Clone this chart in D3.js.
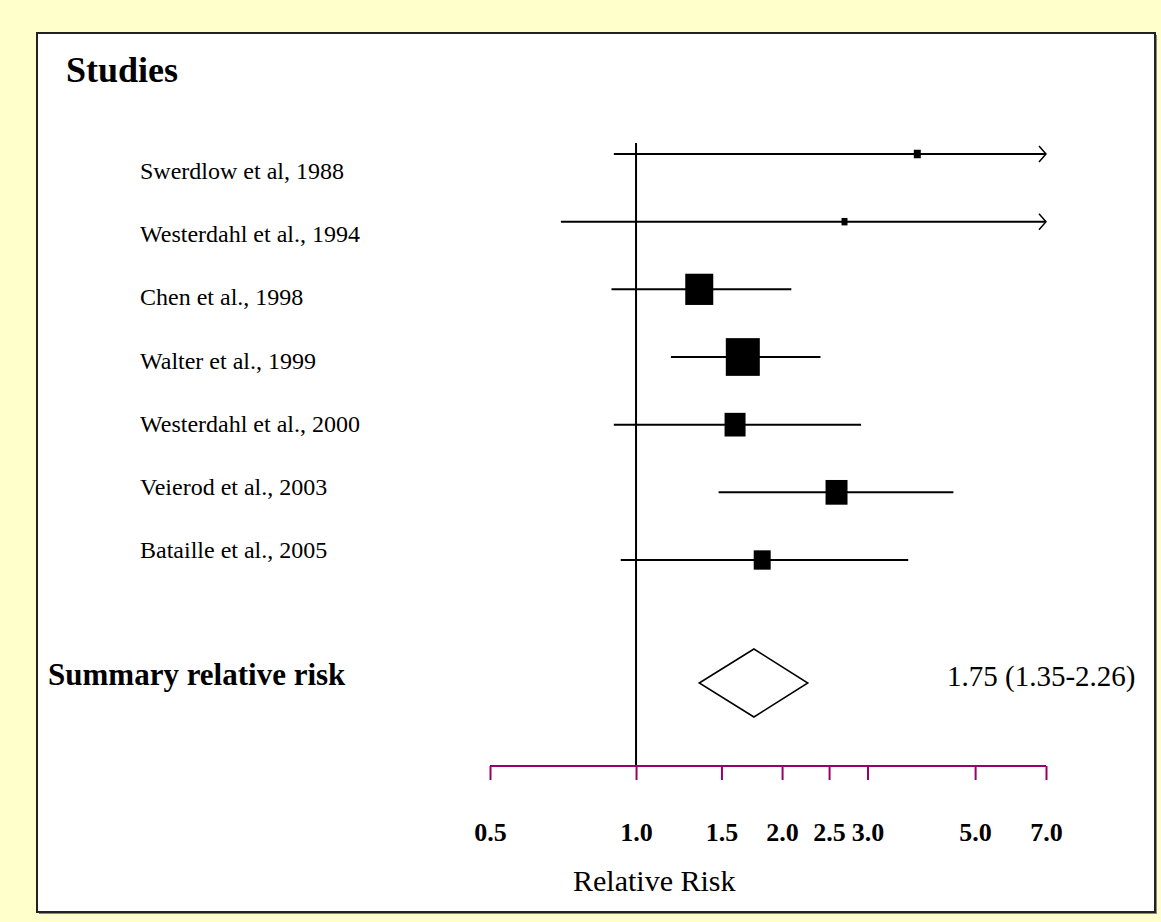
<!DOCTYPE html>
<html>
<head>
<meta charset="utf-8">
<script src="https://cdn.jsdelivr.net/npm/d3@7"></script>
<style>
html,body{margin:0;padding:0;background:#FFFFCC;}
svg{display:block;}
</style>
</head>
<body>
<svg id="chart" width="1161" height="922"></svg>
<script>
// ---- data ----
const studies = ["Swerdlow et al, 1988","Westerdahl et al., 1994","Chen et al., 1998","Walter et al., 1999","Westerdahl et al., 2000","Veierod et al., 2003","Bataille et al., 2005"];
const rr      = [3.80, 2.69, 1.35, 1.66, 1.60, 2.59, 1.82];
const lower   = [0.90, 0.70, 0.89, 1.18, 0.90, 1.48, 0.93];
const upper   = [15.0, 10.0, 2.09, 2.40, 2.91, 4.51, 3.64];
const weights = [1.5, 1.1, 24.2, 35.7, 13.6, 14.9, 8.9];
const summary = {rr: 1.75, lo: 1.35, hi: 2.26};
const tickValues = [0.5, 1.0, 1.5, 2.0, 2.5, 3.0, 5.0, 7.0];
const tickLabels = ["0.5","1.0","1.5","2.0","2.5","3.0","5.0","7.0"];

const svg = d3.select("#chart");
const serif = "'Liberation Serif','Times New Roman',serif";

// frame
svg.append("rect").attr("x",39).attr("y",35).attr("width",1118).attr("height",879)
  .attr("fill","#888");
svg.append("rect").attr("x",37).attr("y",33).attr("width",1118).attr("height",879)
  .attr("fill","#fff").attr("stroke","#222").attr("stroke-width",2);

const x = d3.scaleLog().domain([0.5, 7]).range([490, 1046]);
const yRow = d3.scalePoint().domain(studies).range([154, 560]);
const yLab = d3.scalePoint().domain(studies).range([179, 558]);
const side = d3.scaleSqrt().domain([0, d3.max(weights)]).range([0, 34]);
const axisY = 766;
const xmax = x.domain()[1];

// titles
svg.append("text").attr("x",66).attr("y",82).text("Studies")
  .attr("font-family",serif).attr("font-weight","bold").attr("font-size",36).attr("fill","#000");
svg.append("text").attr("x",48).attr("y",685).text("Summary relative risk")
  .attr("font-family",serif).attr("font-weight","bold").attr("font-size",31).attr("fill","#000");

// study labels
svg.append("g").selectAll("text").data(studies).join("text")
  .attr("x",140).attr("y",d=>yLab(d)).text(d=>d)
  .attr("font-family",serif).attr("font-size",24).attr("fill","#000");

// reference line at 1.0
svg.append("line").attr("x1",x(1)).attr("x2",x(1)).attr("y1",143).attr("y2",axisY)
  .attr("stroke","#000").attr("stroke-width",2);

// CI lines
const rows = studies.map((s,i)=>({s, rr:rr[i], lo:lower[i], hi:upper[i], w:weights[i]}));
const g = svg.append("g");
g.selectAll("line.ci").data(rows).join("line").attr("class","ci")
  .attr("x1",d=>x(d.lo)).attr("x2",d=>x(Math.min(d.hi,xmax)))
  .attr("y1",d=>yRow(d.s)).attr("y2",d=>yRow(d.s))
  .attr("stroke","#000").attr("stroke-width",2);
// arrows for truncated CIs
g.selectAll("path.arrow").data(rows.filter(d=>d.hi>xmax)).join("path").attr("class","arrow")
  .attr("d",d=>{const ex=x(xmax), ey=yRow(d.s); return `M${ex-7},${ey-8}L${ex},${ey}L${ex-7},${ey+8}`;})
  .attr("fill","none").attr("stroke","#000").attr("stroke-width",1.5);
// squares
g.selectAll("rect.pt").data(rows).join("rect").attr("class","pt")
  .attr("x",d=>x(d.rr)-side(d.w)/2).attr("width",d=>side(d.w))
  .attr("y",d=>yRow(d.s)-(side(d.w)*1.08+1)/2).attr("height",d=>side(d.w)*1.08+1)
  .attr("fill","#000");

// summary diamond
const dy = 683, dh = 34;
svg.append("path")
  .attr("d",`M${x(summary.lo)},${dy}L${x(summary.rr)},${dy-dh}L${x(summary.hi)},${dy}L${x(summary.rr)},${dy+dh}Z`)
  .attr("fill","#fff").attr("stroke","#000").attr("stroke-width",1.5);
svg.append("text").attr("x",947).attr("y",686)
  .text(`${summary.rr.toFixed(2)} (${summary.lo.toFixed(2)}-${summary.hi.toFixed(2)})`)
  .attr("font-family",serif).attr("font-size",29).attr("fill","#000");

// axis
const axis = d3.axisBottom(x).tickValues(tickValues).tickFormat((d,i)=>tickLabels[i])
  .tickSize(14).tickPadding(0);
const ag = svg.append("g").attr("transform",`translate(0,${axisY})`).call(axis);
ag.select(".domain").attr("d",`M${x.range()[0]},0H${x.range()[1]}`)
  .attr("stroke","#990066").attr("stroke-width",2);
ag.selectAll(".tick line").attr("stroke","#990066").attr("stroke-width",2);
ag.selectAll(".tick text").attr("y",75).attr("dy",0)
  .attr("font-family",serif).attr("font-weight","bold").attr("font-size",26).attr("fill","#000");

svg.append("text").attr("x",573).attr("y",891).text("Relative Risk")
  .attr("font-family",serif).attr("font-size",30).attr("fill","#000");
</script>
</body>
</html>
